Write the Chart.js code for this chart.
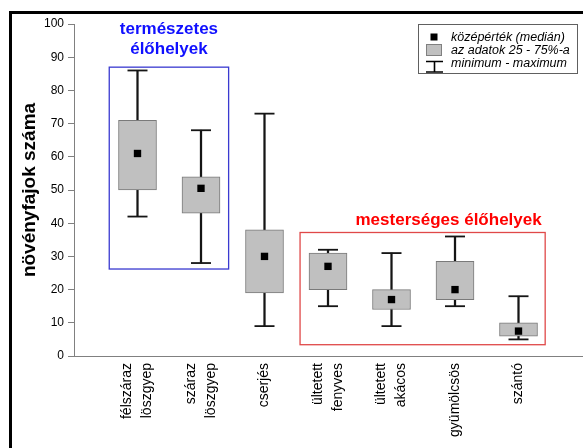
<!DOCTYPE html>
<html><head><meta charset="utf-8">
<script src="https://cdn.jsdelivr.net/npm/chart.js@4.4.0/dist/chart.umd.min.js"></script>
<style>html,body{margin:0;padding:0;background:#fff}#wrap{width:583px;height:448px;position:relative}</style>
</head><body><div id="wrap"><canvas id="c" width="583" height="448"></canvas></div>
<script>
// ---- data ----
const categories = [["félszáraz","löszgyep"],["száraz","löszgyep"],"cserjés",["ültetett","fenyves"],["ültetett","akácos"],"gyümölcsös","szántó"];
const minimum = [42, 28, 9, 15, 9, 15, 5];
const q1      = [50, 43, 19, 20, 14, 17, 6];
const median  = [61, 50.5, 30, 27, 17, 20, 7.5];
const q3      = [71, 54, 38, 31, 20, 28.5, 10];
const maximum = [86, 68, 73, 32, 31, 36, 18];
const legendLabels = ["középérték (medián)", "az adatok 25 - 75%-a", "minimum - maximum"];
const yTitle = "növényfajok száma";
const groupNatural = ["természetes", "élőhelyek"];
const groupArtificial = "mesterséges élőhelyek";

// ---- chart ----
const FONT = "'Liberation Sans', Arial, sans-serif";
Chart.defaults.font.family = FONT;
const pos = categories.map((_, i) => i + 1);

// category labels on the x axis, placed by the x scale, drawn rotated and centred per category
const categoryLabels = {
  id: 'categoryLabels',
  afterDraw(chart) {
    const {ctx, scales: {x}} = chart;
    const lh = 20, pad = 7;
    ctx.save();
    ctx.fillStyle = '#000';
    ctx.font = "14px " + FONT;
    ctx.textAlign = 'right';
    ctx.textBaseline = 'middle';
    categories.forEach((lab, i) => {
      const lines = Array.isArray(lab) ? lab : [lab];
      const px = x.getPixelForValue(pos[i]);
      lines.forEach((line, j) => {
        const lx = px + (j - (lines.length - 1) / 2) * lh;
        ctx.save();
        ctx.translate(lx, x.top + pad);
        ctx.rotate(-Math.PI / 2);
        ctx.fillText(line, 0, 0);
        ctx.restore();
      });
    });
    ctx.restore();
  }
};

const annotations = {
  id: 'annotations',
  afterDraw(chart) {
    const {ctx, scales: {x, y}} = chart;
    ctx.save();
    // outer frame (top and left)
    ctx.fillStyle = '#000';
    ctx.fillRect(9, 11, 574, 3);
    ctx.fillRect(9, 11, 3, 437);
    // natural habitats box
    const bx0 = x.getPixelForValue(0.555), bx1 = x.getPixelForValue(2.435);
    const by0 = y.getPixelForValue(87.0), by1 = y.getPixelForValue(26.2);
    ctx.strokeStyle = '#3a3ad0'; ctx.lineWidth = 1.3;
    ctx.strokeRect(bx0, by0, bx1 - bx0, by1 - by0);
    ctx.fillStyle = '#1010ff';
    ctx.font = "bold 17px " + FONT;
    ctx.textAlign = 'center'; ctx.textBaseline = 'middle';
    const cx = (bx0 + bx1) / 2;
    ctx.fillText(groupNatural[0], cx, 29);
    ctx.fillText(groupNatural[1], cx, 49);
    // artificial habitats box
    const rx0 = x.getPixelForValue(3.56), rx1 = x.getPixelForValue(7.42);
    const ry0 = y.getPixelForValue(37.2), ry1 = y.getPixelForValue(3.4);
    ctx.strokeStyle = '#e04848';
    ctx.strokeRect(rx0, ry0, rx1 - rx0, ry1 - ry0);
    ctx.fillStyle = '#ff0000';
    ctx.textAlign = 'right';
    ctx.fillText(groupArtificial, rx1 - 3.5, 220);
    // legend
    ctx.strokeStyle = '#606060'; ctx.lineWidth = 1;
    ctx.fillStyle = '#fff';
    ctx.fillRect(418.5, 24.5, 159, 49);
    ctx.strokeRect(418.5, 24.5, 159, 49);
    ctx.fillStyle = '#000';
    ctx.fillRect(430.5, 33.5, 7, 7);
    ctx.fillStyle = '#c0c0c0';
    ctx.fillRect(426.5, 44.5, 15, 11);
    ctx.strokeStyle = '#808080';
    ctx.strokeRect(426.5, 44.5, 15, 11);
    ctx.strokeStyle = '#000'; ctx.lineWidth = 1.6;
    ctx.beginPath();
    ctx.moveTo(426, 61.5); ctx.lineTo(443, 61.5);
    ctx.moveTo(434.5, 61.5); ctx.lineTo(434.5, 72);
    ctx.moveTo(426, 72); ctx.lineTo(443, 72);
    ctx.stroke();
    ctx.fillStyle = '#000';
    ctx.font = "italic 12.5px " + FONT;
    ctx.textAlign = 'left'; ctx.textBaseline = 'middle';
    ctx.fillText(legendLabels[0], 451, 37.5);
    ctx.fillText(legendLabels[1], 451, 50.5);
    ctx.fillText(legendLabels[2], 451, 64);
    ctx.restore();
  }
};

new Chart(document.getElementById('c'), {
  type: 'bar',
  data: {
    datasets: [
      { type: 'bar', label: 'range', data: pos.map((p, i) => ({x: p, y: [minimum[i], maximum[i]]})),
        backgroundColor: '#151515', borderWidth: 0, barThickness: 1.6, grouped: false, order: 3 },
      { type: 'scatter', label: 'caps',
        data: pos.map((p, i) => ({x: p, y: minimum[i]})).concat(pos.map((p, i) => ({x: p, y: maximum[i]}))),
        pointStyle: 'line', pointRadius: 10, borderColor: '#151515', borderWidth: 1.8, order: 2 },
      { type: 'bar', label: 'box', data: pos.map((p, i) => ({x: p, y: [q1[i], q3[i]]})),
        backgroundColor: '#c0c0c0', borderColor: '#7a7a7a', borderWidth: 1, borderSkipped: false,
        barThickness: 38, grouped: false, order: 1 },
      { type: 'scatter', label: 'median', data: pos.map((p, i) => ({x: p, y: median[i]})),
        pointStyle: 'rect', pointRadius: 5.2, backgroundColor: '#000', borderColor: '#000', borderWidth: 0, order: 0 }
    ]
  },
  options: {
    responsive: false,
    animation: false,
    events: [],
    layout: { autoPadding: false, padding: { top: 24, left: 0, right: 1, bottom: 0 } },
    plugins: { legend: { display: false }, tooltip: { enabled: false } },
    scales: {
      x: {
        type: 'linear', min: 0, max: pos.length + 1, offset: false,
        grid: { display: false },
        border: { display: true, color: '#808080', width: 1 },
        ticks: { display: false, stepSize: 1 },
        afterFit: (s) => { s.height = 92; }
      },
      y: {
        min: 0, max: 100,
        grid: { drawOnChartArea: false, tickLength: 6, color: '#808080' },
        border: { display: true, color: '#808080', width: 1 },
        ticks: { stepSize: 10, padding: 4, color: '#000', font: { size: 12 } },
        title: { display: true, text: yTitle, color: '#000', font: { size: 19, weight: 'bold' }, padding: { top: 18, bottom: 0 } },
        afterFit: (s) => { s.width = 74; }
      }
    }
  },
  plugins: [categoryLabels, annotations]
});
</script>
</body></html>
